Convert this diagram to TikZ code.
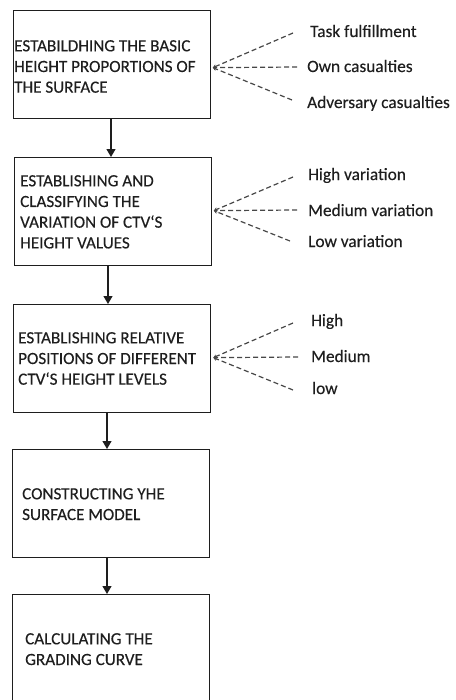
\documentclass[tikz,border=0pt]{standalone}
\usepackage{fontspec}
\setmainfont{Carlito}[FakeBold=0.3]
\usetikzlibrary{arrows.meta,calc}
\definecolor{ink}{HTML}{1E1E1E}
\definecolor{dashgray}{HTML}{474747}
\newcommand{\tick}{\symbol{"60}}
\begin{document}
\begin{tikzpicture}[x=1bp,y=-1bp,
  stepbox/.style={draw=ink,line width=1.3bp,rectangle,inner sep=0pt,
    minimum width=197bp,minimum height=108bp,anchor=north west},
  boxtext/.style={inner sep=0pt,anchor=north west,align=left,text=ink,
    font=\fontsize{17.1bp}{20.7bp}\selectfont},
  optlabel/.style={inner sep=0pt,anchor=base west,text=ink,
    font=\fontsize{17.3bp}{20bp}\selectfont},
  flow/.style={draw=ink,line width=1.2bp,-{Triangle[length=8bp,width=9bp]}},
  fan/.style={draw=dashgray,line width=1.2bp,dash pattern=on 5bp off 3bp,
    -{Stealth[length=3.5bp,width=4bp]}}]
\useasboundingbox (0,0) rectangle (456,700);
\clip (0,0) rectangle (456,700);

% process boxes
\node[stepbox] (b1) at (13,10) {};
\node[stepbox] (b2) at (14,157) {};
\node[stepbox] (b3) at (13,304) {};
\node[stepbox] (b4) at (12,449) {};
\node[stepbox,minimum height=120bp] (b5) at (12,594) {};

% box captions
\node[boxtext] (t1) at (14,40) {ESTABILDHING THE BASIC\\HEIGHT PROPORTIONS OF\\THE SURFACE};
\node[boxtext] (t2) at (20,175) {ESTABLISHING AND\\CLASSIFYING THE\\VARIATION OF CTV\tick S\\HEIGHT VALUES};
\node[boxtext] (t3) at (18,332) {ESTABLISHING RELATIVE\\POSITIONS OF DIFFERENT\\CTV\tick S HEIGHT LEVELS};
\node[boxtext] (t4) at (22,488) {CONSTRUCTING YHE\\SURFACE MODEL};
\node[boxtext] (t5) at (25,633) {CALCULATING THE\\GRADING CURVE};

% vertical flow
\coordinate (x1) at (111,0);
\coordinate (x2) at (108,0);
\coordinate (x3) at (107,0);
\draw[flow] (b1.south -| x1) -- (b2.north -| x1);
\draw[flow] (b2.south -| x2) -- (b3.north -| x2);
\draw[flow] (b3.south -| x3) -- (b4.north -| x3);
\draw[flow] (b4.south -| x3) -- (b5.north -| x3);

% option fans
\coordinate (o1) at ($(b1.east)+(1.5,3)$);
\coordinate (o2) at ($(b2.east)+(1.5,-1)$);
\coordinate (o3) at ($(b3.east)+(2,-1)$);

\node[optlabel] (l11) at (310,37) {Task fulfillment};
\node[optlabel] (l12) at (307,72) {Own casualties};
\node[optlabel] (l13) at (307,108) {Adversary casualties};
\coordinate (e11) at (293,33);
\coordinate (e12) at (297,67);
\coordinate (e13) at (292,100);
\draw[fan] (e11) -- (o1);
\draw[fan] (e12) -- (o1);
\draw[fan] (e13) -- (o1);

\node[optlabel] (l21) at (308,180) {High variation};
\node[optlabel] (l22) at (308,216) {Medium variation};
\node[optlabel] (l23) at (308,247) {Low variation};
\coordinate (e21) at (293,177);
\coordinate (e22) at (297,210);
\coordinate (e23) at (290,241);
\draw[fan] (e21) -- (o2);
\draw[fan] (e22) -- (o2);
\draw[fan] (e23) -- (o2);

\node[optlabel] (l31) at (311,326) {High};
\node[optlabel] (l32) at (311,362) {Medium};
\node[optlabel] (l33) at (312,394) {low};
\coordinate (e31) at (293,323);
\coordinate (e32) at (298,357);
\coordinate (e33) at (293,390);
\draw[fan] (e31) -- (o3);
\draw[fan] (e32) -- (o3);
\draw[fan] (e33) -- (o3);
\end{tikzpicture}
\end{document}
